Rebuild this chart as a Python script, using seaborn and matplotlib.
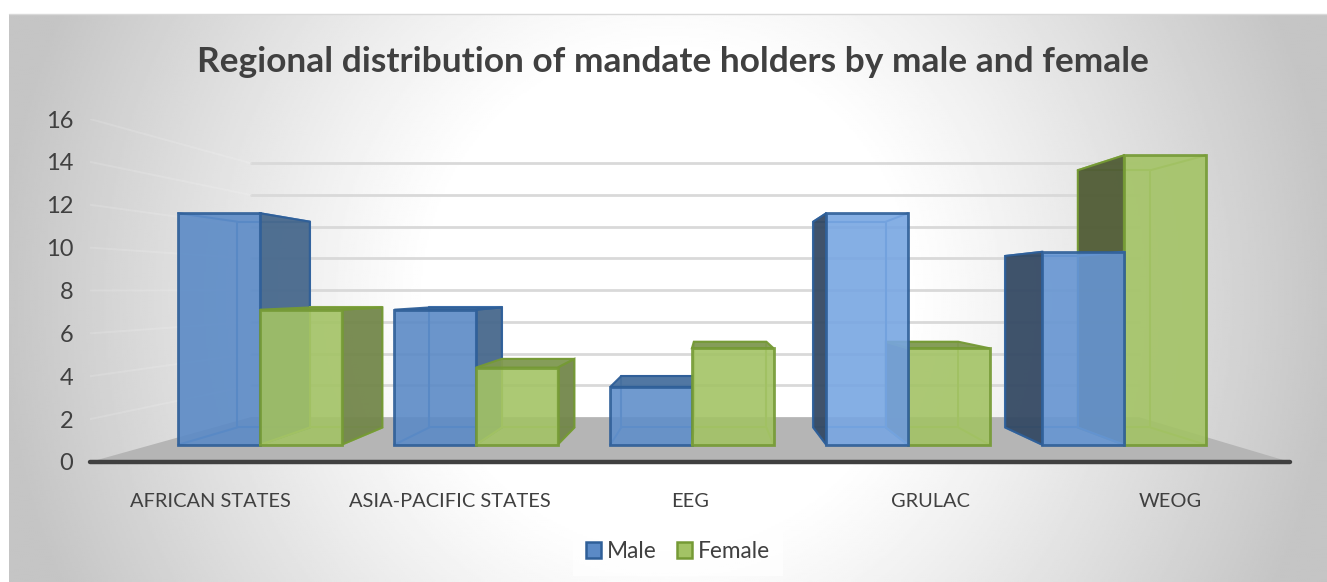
import numpy as np
import pandas as pd
import matplotlib
matplotlib.use('Agg')
import matplotlib.pyplot as plt
from matplotlib.patches import Polygon
from matplotlib.transforms import Affine2D
import seaborn as sns

# Data
categories = ['AFRICAN STATES', 'ASIA-PACIFIC STATES', 'EEG', 'GRULAC', 'WEOG']
male = [12, 7, 3, 12, 10]
female = [7, 4, 5, 5, 15]
y_ticks = [0, 2, 4, 6, 8, 10, 12, 14, 16]

W, H = 1327, 582
sns.set_theme(style='white')
plt.rcParams['font.family'] = ['Lato', 'DejaVu Sans']

TEXT = '#404040'
BLUE, GREEN = '#5B8AC6', '#A3C365'
BLUE_EDGE, GREEN_EDGE = '#2F5F98', '#759A35'
BLUE_INNER, GREEN_INNER = '#4F82BE', '#94B658'
# dark faces of the boxes: (right side, left side, top)
SHADE = {'Male': ('#47688C', '#354A64', '#47709E'),
         'Female': ('#73874B', '#505C35', '#7F9850')}
# the blue fronts get lighter towards the right of the chart
MALE_FRONT = ['#5B8AC6', '#5B8AC6', '#608FCA', '#78A6E2', '#6695D2']

# perspective, in data units of the front plane of the axis
VX, VY = 2.08, 8.05
K_FRONT, K_BACK, K_WALL = 0.90, 0.80, 0.74


def project(x, v, k):
    return (VX + (x - VX) * k, VY + (v - VY) * k)


fig = plt.figure(figsize=(W / 100, H / 100), dpi=100, facecolor='white')

# chart area background, white in the middle and grey towards the sides
bg = fig.add_axes([9 / W, 0, 1 - 9 / W, 1 - 14 / H], zorder=0)
yy, xx = np.mgrid[-1:1:300j, -1:1:660j]
r = np.clip((np.sqrt(xx ** 2 + (yy * 0.42) ** 2) - 0.36) / 0.66, 0, 1)
bg.imshow(1 - 0.23 * r ** 1.1, cmap='gray', vmin=0, vmax=1, aspect='auto')
bg.axis('off')
fig.add_artist(plt.Line2D([9 / W, 1], [1 - 14 / H] * 2, color='#D9D9D9', lw=1))

ax = fig.add_axes([90 / W, 1 - 462 / H, 1200 / W, 343 / H], zorder=1)
ax.patch.set_alpha(0)

df = pd.DataFrame({'cat': categories * 2,
                   'val': male + female,
                   'sex': ['Male'] * 5 + ['Female'] * 5})
sns.barplot(data=df, x='cat', y='val', hue='sex', ax=ax, order=categories,
            palette={'Male': BLUE, 'Female': GREEN}, width=0.756, gap=0,
            saturation=1, errorbar=None, linewidth=2, zorder=5)
ax.set_xlim(-0.5, 4.5)
ax.set_ylim(0, 16)
ax.set_xlabel('')
ax.set_ylabel('')
ax.set_yticks(y_ticks)
ax.tick_params(axis='y', labelsize=17, labelcolor=TEXT, length=0, pad=12)
ax.tick_params(axis='x', labelsize=14.4, labelcolor=TEXT, length=0, pad=22)
sns.despine(ax=ax, left=True, top=True, right=True)
ax.spines['bottom'].set_linewidth(3.2)
ax.spines['bottom'].set_color(TEXT)
ax.spines['bottom'].set_capstyle('round')
ax.spines['bottom'].set_zorder(2)

# floor and walls
floor = [(-0.5, 0), (4.5, 0), project(4.5, 0, K_WALL), project(-0.5, 0, K_WALL)]
ax.add_patch(Polygon(floor, closed=True, fc='#B5B5B5', ec='none', zorder=1))
for v in y_ticks:
    p0, p1 = project(-0.5, v, K_WALL), project(4.5, v, K_WALL)
    if v > 0:
        ax.plot([p0[0], p1[0]], [p0[1], p1[1]], color='#D9D9D9', lw=2, zorder=1.5)
        ax.plot([-0.5, p0[0]], [v, p0[1]], color='white', alpha=0.14, lw=1.4, zorder=1.5)


def draw_box(patch, sex, z):
    x0, x1 = patch.get_x(), patch.get_x() + patch.get_width()
    top = patch.get_height()
    edge = BLUE_EDGE if sex == 'Male' else GREEN_EDGE
    inner = BLUE_INNER if sex == 'Male' else GREEN_INNER
    right, left, lid = SHADE[sex]

    f = {n: project(a, b, K_FRONT) for n, (a, b) in
         dict(bl=(x0, 0), br=(x1, 0), tl=(x0, top), tr=(x1, top)).items()}
    b = {n: project(a, c, K_BACK) for n, (a, c) in
         dict(bl=(x0, 0), br=(x1, 0), tl=(x0, top), tr=(x1, top)).items()}

    # hidden edges, seen through the glassy front
    for p, q in [(b['bl'], b['br']), (b['bl'], b['tl']), (b['br'], b['tr']),
                 (b['tl'], b['tr']), (f['bl'], b['bl']), (f['br'], b['br'])]:
        ax.plot([p[0], q[0]], [p[1], q[1]], color=inner, lw=1.5, zorder=z)

    if b['br'][0] > f['br'][0]:
        ax.add_patch(Polygon([f['br'], b['br'], b['tr'], f['tr']], fc=right,
                             ec=edge, lw=1.5, alpha=0.95, zorder=z + 0.1))
    if b['bl'][0] < f['bl'][0]:
        ax.add_patch(Polygon([f['bl'], b['bl'], b['tl'], f['tl']], fc=left,
                             ec=edge, lw=1.5, alpha=0.95, zorder=z + 0.1))
    if top < VY:
        ax.add_patch(Polygon([f['tl'], f['tr'], b['tr'], b['tl']], fc=lid,
                             ec=edge, lw=1.5, alpha=0.95, zorder=z + 0.2))
    else:
        for p, q in [(f['tl'], b['tl']), (f['tr'], b['tr'])]:
            ax.plot([p[0], q[0]], [p[1], q[1]], color=inner, lw=1.5, zorder=z)

    # the seaborn bar itself is the front of the box
    persp = Affine2D().translate(-VX, -VY).scale(K_FRONT).translate(VX, VY)
    patch.set_transform(persp + ax.transData)
    patch.set_edgecolor(edge)
    patch.set_alpha(0.9)
    patch.set_zorder(z + 0.3)


# boxes further from the centre are painted first
male_bars, female_bars = ax.containers[0], ax.containers[1]
for i in range(len(categories)):
    male_bars[i].set_facecolor(MALE_FRONT[i])
    z = 10 + abs(i - 2) * -2 + 4
    if i <= 2:
        draw_box(male_bars[i], 'Male', z)
        draw_box(female_bars[i], 'Female', z + 1)
    else:
        draw_box(female_bars[i], 'Female', z)
        draw_box(male_bars[i], 'Male', z + 1)

sns.move_legend(ax, loc='center', bbox_to_anchor=(678 / W, 1 - 551.5 / H),
                bbox_transform=fig.transFigure, ncol=2, title=None, fontsize=16.3,
                frameon=True, facecolor='white', edgecolor='none', framealpha=0.7,
                handlelength=0.66, handleheight=0.66, handletextpad=0.25,
                columnspacing=0.9, labelcolor=TEXT, fancybox=False, borderpad=0.6,
                borderaxespad=0)
leg = ax.get_legend()
for h, e in zip(leg.legend_handles, [BLUE_EDGE, GREEN_EDGE]):
    h.set_edgecolor(e)
    h.set_linewidth(1.8)

fig.text(673 / W, 1 - 61.5 / H, 'Regional distribution of mandate holders by male and female',
         ha='center', va='center', fontsize=25.4, fontweight='bold', color=TEXT)

fig.savefig('out.png', dpi=100)
